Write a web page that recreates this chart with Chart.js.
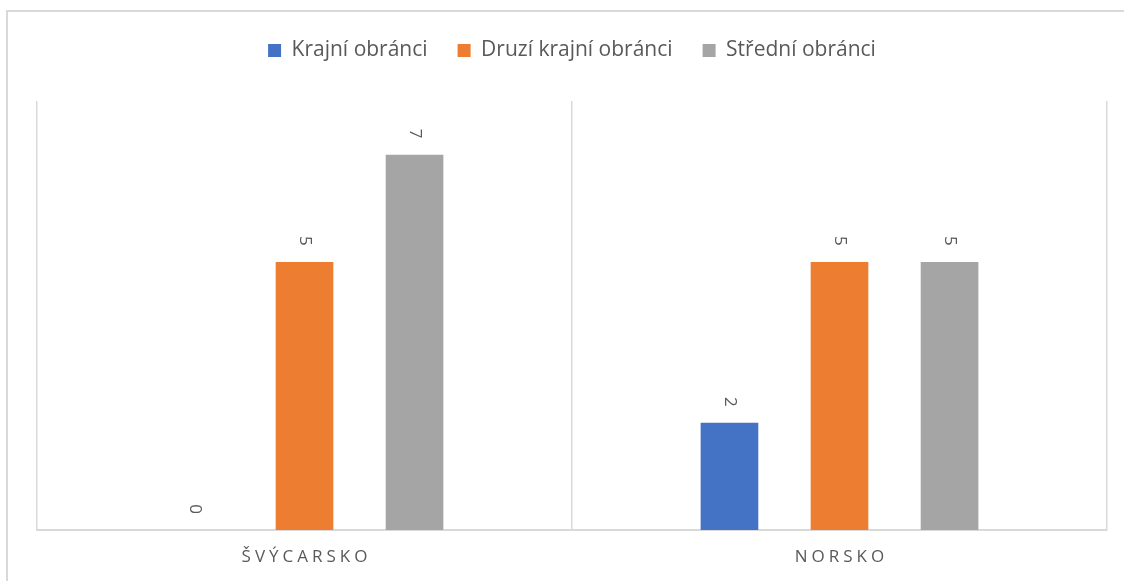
<!DOCTYPE html>
<html>
<head>
<meta charset="utf-8">
<script src="https://cdn.jsdelivr.net/npm/chart.js@4/dist/chart.umd.min.js"></script>
<style>
  html, body { margin: 0; padding: 0; background: #fff; }
  #wrap { width: 1124px; height: 581px; position: relative; }
</style>
</head>
<body>
<div id="wrap"><canvas id="chart"></canvas></div>
<script>
// ================= DATA =================
const categories = ["ŠVÝCARSKO", "NORSKO"];
const seriesNames = ["Krajní obránci", "Druzí krajní obránci", "Střední obránci"];
const krajniObranci = [0, 2];
const druziKrajniObranci = [5, 5];
const stredniObranci = [7, 5];
const yMax = 8;

const colors = ["#4472c4", "#ed7d31", "#a5a5a5"];
const textColor = "#595959";
const lineColor = "#d9d9d9";

// ================= PLUGINS =================
// white background + outer frame
const frame = {
  id: "frame",
  beforeDraw(chart) {
    const ctx = chart.ctx;
    ctx.save();
    ctx.fillStyle = "#fff";
    ctx.fillRect(0, 0, chart.width, chart.height);
    ctx.strokeStyle = lineColor;
    ctx.lineWidth = 2;
    ctx.strokeRect(7, 11, chart.width + 50, chart.height + 50);
    ctx.restore();
  },
};

// extra room between legend and plot
const legendGap = {
  id: "legendGap",
  afterInit(chart) {
    const legend = chart.legend;
    if (!legend || legend._gapPatched) return;
    const fit = legend.fit;
    legend.fit = function () {
      fit.call(this);
      this.height += 30;
    };
    legend._gapPatched = true;
  },
};

// rotated value labels above bars
const valueLabels = {
  id: "valueLabels",
  afterDatasetsDraw(chart) {
    const ctx = chart.ctx;
    ctx.save();
    ctx.fillStyle = textColor;
    ctx.font = "17px 'Open Sans'";
    ctx.textAlign = "center";
    ctx.textBaseline = "middle";
    chart.data.datasets.forEach((ds, i) => {
      chart.getDatasetMeta(i).data.forEach((bar, j) => {
        ctx.save();
        ctx.translate(bar.x, bar.y - 21);
        ctx.rotate(Math.PI / 2);
        ctx.fillText(String(ds.data[j]), 0, 0);
        ctx.restore();
      });
    });
    ctx.restore();
  },
};

// spaced category labels under the axis
const categoryLabels = {
  id: "categoryLabels",
  afterDraw(chart) {
    const ctx = chart.ctx;
    const x = chart.scales.x;
    const spacing = 4;
    ctx.save();
    ctx.fillStyle = textColor;
    ctx.font = "17px 'Open Sans'";
    ctx.letterSpacing = spacing + "px";
    ctx.textAlign = "center";
    ctx.textBaseline = "middle";
    categories.forEach((c, i) => {
      ctx.fillText(c, x.getPixelForValue(i) + spacing / 2, 557);
    });
    ctx.restore();
  },
};

// ================= CHART =================
new Chart(document.getElementById("chart"), {
  type: "bar",
  data: {
    labels: categories,
    datasets: [
      { label: seriesNames[0], data: krajniObranci, backgroundColor: colors[0] },
      { label: seriesNames[1], data: druziKrajniObranci, backgroundColor: colors[1] },
      { label: seriesNames[2], data: stredniObranci, backgroundColor: colors[2] },
    ],
  },
  options: {
    responsive: true,
    maintainAspectRatio: false,
    animation: false,
    categoryPercentage: 0.617,
    barPercentage: 0.524,
    layout: { padding: { top: 10, left: 37, right: 17, bottom: 51 } },
    plugins: {
      tooltip: { enabled: false },
      legend: {
        position: "top",
        labels: {
          color: textColor,
          font: { family: "'Open Sans'", size: 21 },
          boxWidth: 13,
          boxHeight: 13,
          padding: 30,
        },
      },
    },
    scales: {
      x: {
        grid: { color: lineColor, lineWidth: 1.5, drawTicks: false, offset: true },
        border: { color: lineColor, width: 2 },
        ticks: { display: false },
      },
      y: {
        display: false,
        min: 0,
        max: yMax,
      },
    },
  },
  plugins: [frame, legendGap, valueLabels, categoryLabels],
});
</script>
</body>
</html>
